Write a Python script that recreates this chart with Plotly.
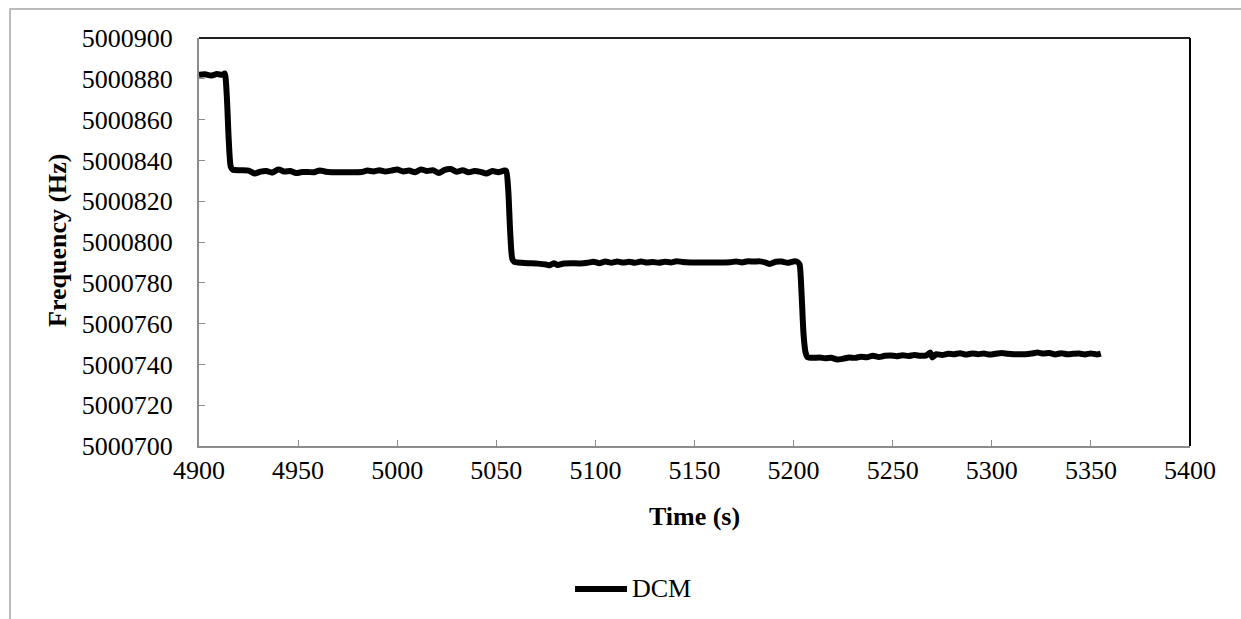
import plotly.graph_objects as go

# ---- data ----
time_s = [
    4900, 4903, 4906, 4909, 4912, 4913, 4914, 4915, 4916, 4917,
    4921, 4925, 4928, 4931, 4934, 4937, 4940, 4943, 4946, 4949,
    4952, 4955, 4958, 4961, 4964, 4967, 4970, 4974, 4978, 4982,
    4985, 4988, 4991, 4994, 4997, 5000, 5003, 5006, 5009, 5012,
    5015, 5018, 5021, 5024, 5027, 5030, 5033, 5036, 5039, 5042,
    5045, 5048, 5051, 5054, 5055, 5056, 5057, 5058, 5059,
    5063, 5067, 5071, 5075, 5077, 5079, 5081, 5084, 5088, 5092,
    5096, 5099, 5102, 5105, 5108, 5111, 5114, 5117, 5120, 5123,
    5126, 5129, 5132, 5135, 5138, 5141, 5144, 5148, 5152, 5156,
    5160, 5164, 5168, 5171, 5174, 5177, 5180, 5183, 5186, 5188,
    5191, 5194, 5197, 5200, 5202, 5203, 5204, 5205, 5206, 5207,
    5210, 5213, 5216, 5219, 5222, 5225, 5228, 5231, 5234, 5237,
    5240, 5243, 5246, 5249, 5252, 5255, 5258, 5261, 5264, 5267,
    5269, 5270, 5272, 5275, 5278, 5281, 5284, 5287, 5290, 5293,
    5296, 5299, 5302, 5305, 5308, 5311, 5314, 5317, 5320, 5323,
    5326, 5329, 5332, 5335, 5338, 5341, 5344, 5347, 5350, 5353,
    5355,
]
freq_dcm = [
    5000882.0, 5000882.2, 5000881.6, 5000882.3, 5000882.0, 5000882.6, 5000872.0, 5000850.0, 5000837.0, 5000835.5,
    5000835.2, 5000835.0, 5000833.6, 5000834.5, 5000834.8, 5000834.0, 5000835.6, 5000834.5, 5000834.8, 5000833.8,
    5000834.3, 5000834.3, 5000834.2, 5000835.1, 5000834.4, 5000834.2, 5000834.2, 5000834.2, 5000834.2, 5000834.3,
    5000835.0, 5000834.6, 5000835.2, 5000834.5, 5000835.0, 5000835.5, 5000834.6, 5000835.0, 5000834.2, 5000835.6,
    5000834.8, 5000835.2, 5000833.8, 5000835.4, 5000835.8, 5000834.4, 5000835.2, 5000834.2, 5000834.8, 5000834.4,
    5000833.6, 5000834.8, 5000834.2, 5000835.0, 5000834.8, 5000826.0, 5000805.0, 5000792.0, 5000790.3,
    5000789.8, 5000789.6, 5000789.4, 5000789.0, 5000788.6, 5000789.6, 5000788.7, 5000789.5, 5000789.6, 5000789.5,
    5000789.8, 5000790.3, 5000789.6, 5000790.4, 5000789.8, 5000790.4, 5000789.9, 5000790.3, 5000789.8, 5000790.4,
    5000789.9, 5000790.2, 5000789.8, 5000790.3, 5000790.0, 5000790.6, 5000790.2, 5000790.0, 5000790.0, 5000790.0,
    5000790.0, 5000790.0, 5000790.1, 5000790.5, 5000790.0, 5000790.6, 5000790.4, 5000790.5, 5000789.9, 5000789.2,
    5000790.3, 5000790.4, 5000789.8, 5000790.5, 5000790.2, 5000789.0, 5000775.0, 5000755.0, 5000746.0, 5000743.6,
    5000743.2, 5000743.4, 5000743.0, 5000743.3, 5000742.4, 5000742.8, 5000743.4, 5000743.2, 5000743.8, 5000743.5,
    5000744.3, 5000743.6, 5000744.2, 5000744.4, 5000744.0, 5000744.5, 5000744.1, 5000744.6, 5000744.2, 5000744.4,
    5000745.8, 5000743.4, 5000745.0, 5000744.6, 5000745.2, 5000745.0, 5000745.5, 5000744.8, 5000745.4, 5000745.0,
    5000745.3, 5000744.8, 5000745.2, 5000745.6, 5000745.2, 5000745.0, 5000745.0, 5000745.0, 5000745.3, 5000745.8,
    5000745.3, 5000745.6, 5000744.9, 5000745.5, 5000745.0, 5000745.2, 5000745.3, 5000744.9, 5000745.4, 5000744.9,
    5000745.3,
]
series_name = "DCM"
x_ticks = [4900, 4950, 5000, 5050, 5100, 5150, 5200, 5250, 5300, 5350, 5400]
y_ticks = [5000700, 5000720, 5000740, 5000760, 5000780, 5000800,
           5000820, 5000840, 5000860, 5000880, 5000900]
x_title = "Time (s)"
y_title = "Frequency (Hz)"

FONT = "Liberation Serif, Times New Roman, serif"
W, H = 1241, 619
L, R, T, B = 199, 1190, 38, 446   # plot area in px


def px_x(p):
    return (p - L) / (R - L)


def px_y(p):
    return (B - p) / (B - T)


fig = go.Figure()
fig.add_trace(go.Scatter(
    x=time_s, y=freq_dcm, mode="lines", name=series_name,
    line=dict(color="#000000", width=6, shape="spline", smoothing=0.6),
    showlegend=False,
))

fig.update_layout(
    width=W, height=H,
    margin=dict(l=L, r=W - R, t=T, b=H - B, pad=0),
    paper_bgcolor="white", plot_bgcolor="white",
    font=dict(family=FONT, size=26, color="black"),
    xaxis=dict(
        range=[4900, 5400], tickvals=x_ticks, ticktext=[str(v) for v in x_ticks],
        showgrid=False, zeroline=False, showline=True, linecolor="#8c8c8c", linewidth=2,
        ticks="inside", ticklen=6, tickcolor="#8c8c8c", tickwidth=1,
        ticklabelstandoff=0,
        title=dict(text="<b>" + x_title + "</b>", standoff=23, font=dict(size=26)),
    ),
    yaxis=dict(
        range=[5000700, 5000900], tickvals=y_ticks, ticktext=[str(v) for v in y_ticks],
        showgrid=False, zeroline=False, showline=True, linecolor="#8c8c8c", linewidth=2,
        ticks="inside", ticklen=6, tickcolor="#8c8c8c", tickwidth=1,
        ticklabelstandoff=19,
    ),
    shapes=[
        # outer chart-area border
        dict(type="rect", xref="paper", yref="paper",
             x0=px_x(10), y0=px_y(640), x1=px_x(1260), y1=px_y(9),
             line=dict(color="#a6a6a6", width=1.5), layer="below"),
        # plot area top / right border
        dict(type="line", xref="paper", yref="paper", x0=0, y0=1, x1=1, y1=1,
             line=dict(color="#202020", width=2)),
        dict(type="line", xref="paper", yref="paper", x0=1, y0=0, x1=1, y1=1,
             line=dict(color="#000000", width=2)),
        # legend line sample
        dict(type="line", xref="paper", yref="paper",
             x0=px_x(575), y0=px_y(589), x1=px_x(627), y1=px_y(589),
             line=dict(color="#000000", width=6)),
    ],
    annotations=[
        dict(text="<b>" + y_title + "</b>", xref="paper", yref="paper",
             x=px_x(57), y=px_y(240), textangle=-90, showarrow=False,
             xanchor="center", yanchor="middle", font=dict(size=26)),
        dict(text=series_name, xref="paper", yref="paper",
             x=px_x(630), y=px_y(588), showarrow=False,
             xanchor="left", yanchor="middle", font=dict(size=26)),
    ],
)

fig.write_html("out.html")
